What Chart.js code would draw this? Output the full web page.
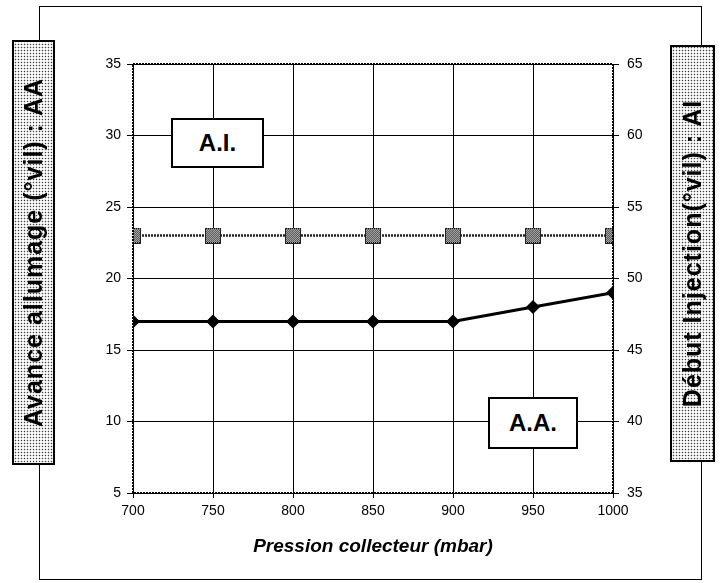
<!DOCTYPE html>
<html lang="fr">
<head>
  <meta charset="UTF-8">
  <title>Avance allumage / Début injection</title>
  <script src="https://cdn.jsdelivr.net/npm/chart.js"></script>
  <style>
    body {
      margin: 0;
      padding: 0;
      background: #fff;
      font-family: 'Liberation Sans', Arial, sans-serif;
      overflow: hidden;
    }
    #wrap {
      position: relative;
      width: 721px;
      height: 583px;
    }
    #chart {
      position: absolute;
      left: 0;
      top: 0;
    }
    #frame {
      position: absolute;
      left: 39px;
      top: 6px;
      width: 661px;
      height: 572px;
      border: 1px solid #000;
    }
    .side {
      position: absolute;
      box-sizing: border-box;
      border: 2px solid #000;
      background-color: #fff;
      background-image: radial-gradient(circle, #444 0.6px, transparent 1.1px);
      background-size: 3px 3px;
      font-weight: bold;
      font-size: 25px;
      letter-spacing: 1px;
      color: #000;
      text-align: center;
      white-space: nowrap;
      transform: rotate(-90deg);
    }
    .tag {
      position: absolute;
      box-sizing: border-box;
      border: 2px solid #000;
      background: #fff;
      font-weight: bold;
      font-size: 24px;
      text-align: center;
    }
    #xtitle {
      position: absolute;
      left: 133px;
      width: 480px;
      top: 535px;
      text-align: center;
      font-weight: bold;
      font-style: italic;
      font-size: 19px;
    }
  </style>
</head>
<body>
  <div id="wrap">
    <div id="frame"></div>
    <canvas id="chart" width="721" height="583"></canvas>
    <!-- boites tournées de -90° : largeur = hauteur visible -->
    <div class="side" style="left:-179px;top:231px;width:425px;height:43px;line-height:39px;">Avance allumage (°vil) : AA</div>
    <div class="side" style="left:484px;top:231px;width:417px;height:45px;line-height:41px;">Début Injection(°vil) : AI</div>
    <div class="tag" style="left:171px;top:118px;width:93px;height:50px;line-height:46px;">A.I.</div>
    <div class="tag" style="left:488px;top:397px;width:90px;height:52px;line-height:48px;">A.A.</div>
    <div id="xtitle">Pression collecteur (mbar)</div>
  </div>

  <script>
    // données
    const pressions = [700, 750, 800, 850, 900, 950, 1000];
    const avanceAllumage = [17, 17, 17, 17, 17, 18, 19];      // axe gauche
    const debutInjection = [53, 53, 53, 53, 53, 53, 53];      // axe droit
    const ticksGauche = [5, 10, 15, 20, 25, 30, 35];
    const ticksDroite = [35, 40, 45, 50, 55, 60, 65];

    // marqueur carré tramé pour A.I.
    function squareMarker() {
      const c = document.createElement('canvas');
      c.width = 16; c.height = 16;
      const g = c.getContext('2d');
      g.fillStyle = '#fff';
      g.fillRect(0, 0, 16, 16);
      g.fillStyle = '#000';
      for (let y = 0; y < 16; y++) {
        for (let x = y % 2; x < 16; x += 2) {
          g.fillRect(x, y, 1, 1);
        }
      }
      g.fillStyle = '#222';
      g.fillRect(0, 0, 16, 1); g.fillRect(0, 15, 16, 1);
      g.fillRect(0, 0, 1, 16); g.fillRect(15, 0, 1, 16);
      return c;
    }

    const cadre = {
      id: 'cadre',
      afterDraw(chart) {
        const { ctx, chartArea: a } = chart;
        ctx.save();
        ctx.strokeStyle = '#000';
        ctx.lineWidth = 2;
        ctx.setLineDash([2, 1]);
        ctx.strokeRect(a.left, a.top, a.right - a.left, a.bottom - a.top);
        ctx.restore();
      }
    };

    const fontTicks = { family: "'Liberation Sans', Arial, sans-serif", size: 14 };

    new Chart(document.getElementById('chart').getContext('2d'), {
      type: 'line',
      data: {
        datasets: [{
          label: 'A.A.',
          data: pressions.map((p, i) => ({ x: p, y: avanceAllumage[i] })),
          yAxisID: 'y',
          borderColor: '#000',
          borderWidth: 3,
          backgroundColor: '#000',
          pointStyle: 'rectRot',
          pointRadius: 7,
          pointBorderWidth: 0,
          tension: 0
        }, {
          label: 'A.I.',
          data: pressions.map((p, i) => ({ x: p, y: debutInjection[i] })),
          yAxisID: 'y2',
          borderColor: '#222',
          borderWidth: 2.5,
          borderDash: [2, 1],
          pointStyle: squareMarker(),
          tension: 0
        }]
      },
      options: {
        responsive: false,
        animation: false,
        layout: { padding: { top: 64, left: 0, right: 0, bottom: 0 } },
        plugins: {
          legend: { display: false },
          tooltip: { enabled: false }
        },
        scales: {
          x: {
            type: 'linear',
            min: 700,
            max: 1000,
            afterFit: s => { s.height = 90; },
            afterBuildTicks: s => { s.ticks = pressions.map(v => ({ value: v })); },
            grid: { color: '#000', lineWidth: 1, tickLength: 5, tickColor: '#000' },
            border: { display: false },
            ticks: { color: '#000', font: fontTicks, padding: 5, maxRotation: 0, callback: v => String(v) }
          },
          y: {
            position: 'left',
            min: 5,
            max: 35,
            afterFit: s => { s.width = 133; },
            afterBuildTicks: s => { s.ticks = ticksGauche.map(v => ({ value: v })); },
            grid: { color: '#000', lineWidth: 1, tickLength: 6, tickColor: '#000' },
            border: { display: false },
            ticks: { color: '#000', font: fontTicks, padding: 6 }
          },
          y2: {
            position: 'right',
            min: 35,
            max: 65,
            afterFit: s => { s.width = 108; },
            afterBuildTicks: s => { s.ticks = ticksDroite.map(v => ({ value: v })); },
            grid: { drawOnChartArea: false, tickLength: 6, tickColor: '#000' },
            border: { display: false },
            ticks: { color: '#000', font: fontTicks, padding: 8 }
          }
        }
      },
      plugins: [cadre]
    });
  </script>
</body>
</html>
